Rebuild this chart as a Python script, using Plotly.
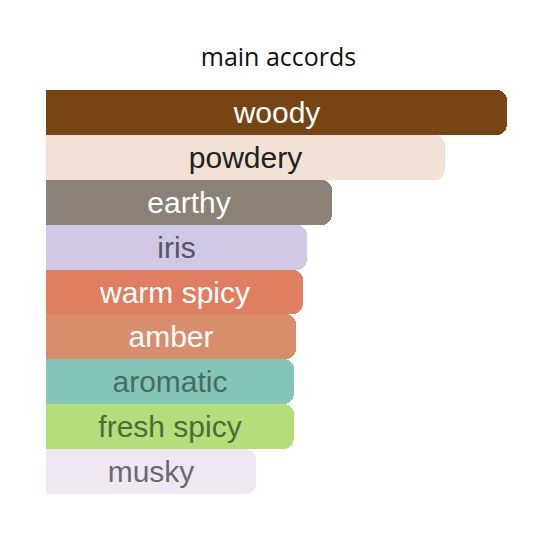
import plotly.graph_objects as go

accords = ["woody", "powdery", "earthy", "iris", "warm spicy", "amber", "aromatic", "fresh spicy", "musky"]
strength = [100, 86.6, 62.0, 56.6, 55.7, 54.2, 53.8, 53.8, 45.5]
barColors = ["#774414", "#f0e1d4", "#8b8176", "#d1c8e6", "#e07e61", "#d88d6c", "#84c5b7", "#b3de7a", "#efe8f3"]
textColors = ["#ffffff", "#222222", "#ffffff", "#555566", "#ffffff", "#ffffff", "#4a6a64", "#4f6b3c", "#6a6872"]

fig = go.Figure()
fig.add_trace(go.Bar(
    x=strength, y=accords, orientation="h",
    marker=dict(color=barColors, line=dict(width=0), cornerradius=10),
    text=accords, textposition="inside", insidetextanchor="middle",
    textfont=dict(family="Liberation Sans, Arial", size=30, color=textColors),
    constraintext="none", hoverinfo="skip",
))

# page has an 8px body margin, so margins are reduced by that
fig.update_layout(
    width=541, height=544,
    margin=dict(l=38, r=42, t=82, b=58),
    title=dict(text="main accords", x=0.5, xanchor="center", y=0.91, yanchor="middle",
               font=dict(family="Open Sans", size=25, color="#111111")),
    bargap=0,
    plot_bgcolor="white", paper_bgcolor="white",
    xaxis=dict(range=[0, 100], visible=False, fixedrange=True),
    yaxis=dict(autorange="reversed", visible=False, fixedrange=True),
    showlegend=False,
)

fig.write_html("out.html")
